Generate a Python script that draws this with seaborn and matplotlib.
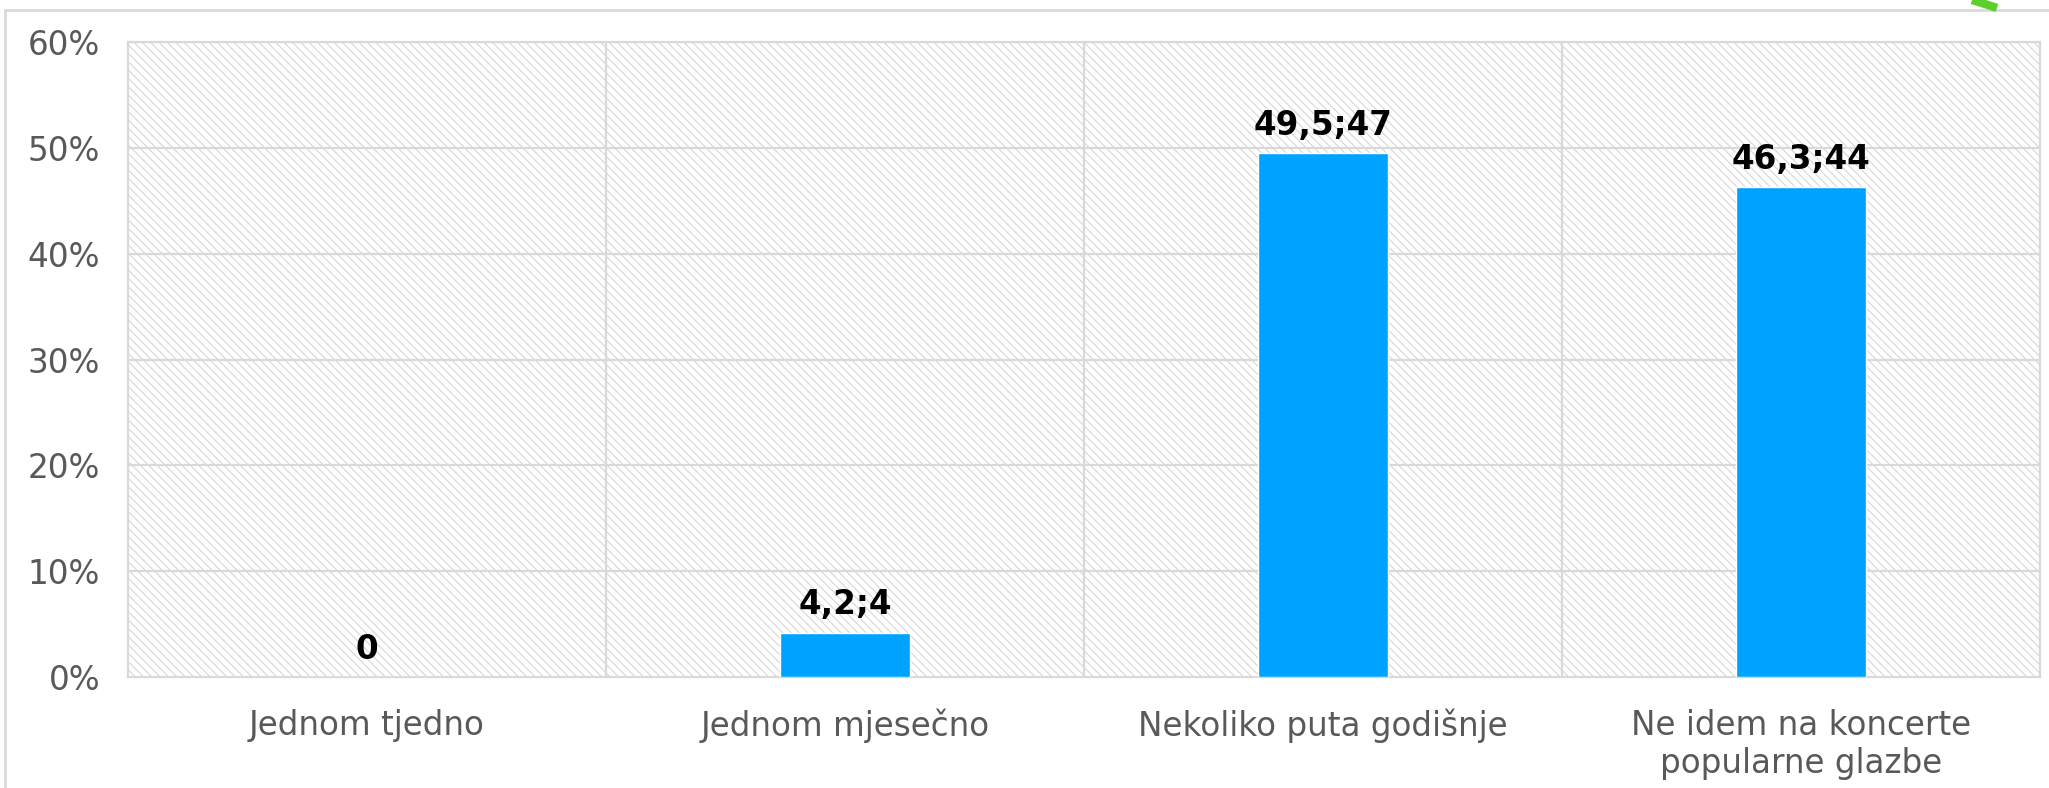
import matplotlib
matplotlib.use("Agg")
import matplotlib.pyplot as plt
import seaborn as sns
import pandas as pd
from matplotlib.patches import Rectangle
from matplotlib.lines import Line2D
from matplotlib.ticker import FuncFormatter

categories = ["Jednom tjedno", "Jednom mjesečno", "Nekoliko puta godišnje",
              "Ne idem na koncerte\npopularne glazbe"]
percent = [0, 4.2, 49.5, 46.3]
counts = [0, 4, 47, 44]

df = pd.DataFrame({"cat": categories, "pct": percent})

sns.set_theme(style="white")
plt.rcParams['font.family'] = ['DejaVu Sans']
plt.rcParams['hatch.linewidth'] = 0.75

fig = plt.figure(figsize=(20.49, 7.88), dpi=100)
ax = fig.add_axes([128/2049, 1-677/788, (2040-128)/2049, (677-42)/788])

# hatched background of the plot area
ax.add_patch(Rectangle((0, 0), 1, 1, transform=ax.transAxes, facecolor="white",
                       edgecolor="#d4d4d4", hatch="\\\\\\\\", linewidth=0, zorder=0))

sns.barplot(data=df, x="cat", y="pct", color="#00A2FF", width=0.27,
            saturation=1, ax=ax, zorder=3)

ax.set_ylim(0, 60)
ax.set_xlim(-0.5, 3.5)
ax.set_yticks(range(0, 61, 10))
ax.yaxis.set_major_formatter(FuncFormatter(lambda v, p: f"{int(v)}%"))
for y in range(10, 61, 10):
    ax.axhline(y, color="#d9d9d9", lw=1.6, zorder=1)
for x in [0.5, 1.5, 2.5]:
    ax.axvline(x, color="#d9d9d9", lw=1.6, zorder=1)

for s in ax.spines.values():
    s.set_color("#d9d9d9")
    s.set_linewidth(1.6)

ax.set_xlabel("")
ax.set_ylabel("")
ax.tick_params(axis="both", length=0, labelsize=23.5, labelcolor="#595959")
ax.tick_params(axis="y", pad=20)
ax.tick_params(axis="x", pad=23)

for i, (p, n) in enumerate(zip(percent, counts)):
    lab = "0" if p == 0 else f"{p:.1f}".replace(".", ",") + f";{n}"
    ax.annotate(lab, (i, p), xytext=(0, 13), textcoords="offset points",
                ha="center", va="baseline", fontsize=23.5, fontweight="bold",
                color="black", zorder=4)

# outer chart frame
fig.patches.append(Rectangle((5/2049, -0.01), 1.0, 1 - 10/788 + 0.01,
                             transform=fig.transFigure, fill=False,
                             edgecolor="#d9d9d9", linewidth=2))
# green decoration at top right
fig.lines.append(Line2D([1972/2049, 1985/2049, 1997/2049], [1.0, 1 - 4/788, 1 - 8/788],
                        transform=fig.transFigure, color="#5ccf2a", linewidth=6,
                        solid_capstyle="butt"))

fig.savefig("out.png", dpi=100, facecolor="white")
